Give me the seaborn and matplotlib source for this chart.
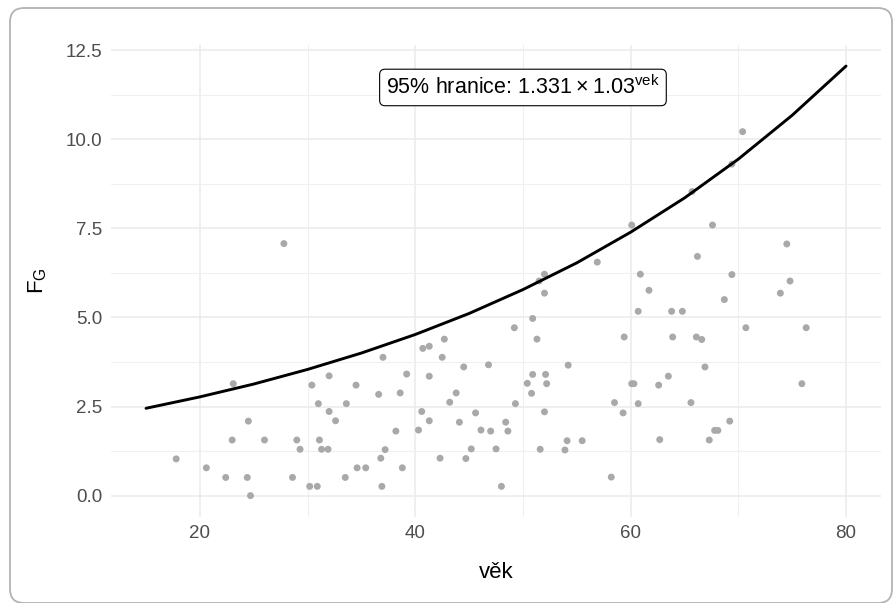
import numpy as np
import pandas as pd
import matplotlib.pyplot as plt
import matplotlib.transforms as mtransforms
from matplotlib.patches import FancyBboxPatch
import seaborn as sns

# body: vek (roky) a F_G
vek = [17.8, 20.6, 22.4, 23.1, 23.0, 24.4, 24.7, 24.5, 26.0, 27.8,
       29.0, 29.3, 28.6, 30.2, 30.9, 30.4, 32.0, 31.0, 32.0, 32.6,
       31.1, 31.3, 31.9, 34.5, 33.6, 37.0, 36.6, 38.6, 39.2, 38.2,
       37.2, 36.8, 34.6, 35.4, 33.5, 38.8, 36.9, 40.7, 41.3, 42.7,
       42.5, 41.3, 44.5, 46.8, 49.2, 43.8, 43.2, 49.3, 40.6, 41.3,
       40.3, 45.6, 44.1, 46.1, 47.0, 48.4, 48.6, 45.2, 47.5, 42.3,
       44.7, 48.0, 50.4, 60.1, 56.9, 52.0, 51.5, 52.0, 50.9, 51.3,
       54.2, 50.9, 52.1, 52.2, 50.8, 52.0, 51.6, 54.1, 53.9, 55.5,
       58.2, 59.4, 58.5, 59.3, 60.1, 60.3, 60.7, 60.9, 61.7, 60.7,
       63.8, 64.8, 63.9, 66.1, 62.6, 63.5, 65.6, 62.7, 66.2, 70.4,
       69.4, 65.7, 67.6, 69.4, 68.7, 66.6, 66.9, 69.2, 67.8, 68.1,
       67.3, 70.7, 74.5, 74.8, 73.9, 76.3, 75.9]
fg = [1.03, 0.78, 0.51, 3.14, 1.56, 0.51, 0.00, 2.09, 1.56, 7.07,
      1.56, 1.30, 0.51, 0.26, 0.26, 3.10, 3.36, 2.58, 2.36, 2.10,
      1.56, 1.30, 1.30, 3.10, 2.58, 3.88, 2.84, 2.88, 3.41, 1.81,
      1.29, 1.05, 0.78, 0.78, 0.51, 0.78, 0.26, 4.13, 4.19, 4.39,
      3.88, 3.35, 3.61, 3.67, 4.71, 2.88, 2.62, 2.58, 2.36, 2.10,
      1.84, 2.32, 2.06, 1.84, 1.81, 2.06, 1.81, 1.31, 1.31, 1.05,
      1.04, 0.26, 3.15, 7.59, 6.55, 6.21, 6.02, 5.68, 4.97, 4.39,
      3.66, 3.40, 3.40, 3.14, 2.87, 2.35, 1.30, 1.54, 1.28, 1.54,
      0.52, 4.45, 2.61, 2.32, 3.14, 3.14, 2.58, 6.21, 5.76, 5.17,
      5.17, 5.17, 4.45, 4.45, 3.10, 3.35, 2.61, 1.57, 6.71, 10.21,
      9.30, 8.53, 7.59, 6.20, 5.50, 4.38, 3.61, 2.09, 1.83, 1.83,
      1.56, 4.71, 7.06, 6.02, 5.68, 4.71, 3.14]

# 95% hranice
krivka_vek = [15, 20, 25, 30, 35, 40, 45, 50, 55, 60, 65, 70, 75, 80]
krivka_fg = [2.45, 2.77, 3.13, 3.54, 4.00, 4.52, 5.11, 5.78, 6.53, 7.39,
             8.35, 9.44, 10.67, 12.05]

x_ticks = [20, 40, 60, 80]
y_ticks = [0.0, 2.5, 5.0, 7.5, 10.0, 12.5]

body = pd.DataFrame({"vek": vek, "fg": fg})
hranice = pd.DataFrame({"vek": krivka_vek, "fg": krivka_fg})

sns.set_theme(style="whitegrid")
plt.rcParams["font.family"] = ["Liberation Sans", "DejaVu Sans"]
plt.rcParams["mathtext.default"] = "regular"

fig = plt.figure(figsize=(8.94, 6.03), dpi=100)
ax = fig.add_axes([0.1242, 0.1426, 0.8613, 0.7833])
ax.set_facecolor("white")

sns.scatterplot(data=body, x="vek", y="fg", color="#A9A9A9", s=25,
                edgecolor="none", ax=ax, zorder=3)
sns.lineplot(data=hranice, x="vek", y="fg", color="black", linewidth=2.1,
             ax=ax, zorder=4)

ax.text(50, 11.45, r"95% hranice: $1.331\times1.03^{vek}$", ha="center",
        va="center", fontsize=15.5, color="black", zorder=5,
        bbox=dict(boxstyle="round,pad=0.3,rounding_size=0.25", fc="white",
                  ec="black", lw=0.8))

ax.set_xlim(11.75, 83.25)
ax.set_ylim(-0.6, 12.65)
ax.set_xticks(x_ticks)
ax.set_xticklabels([str(t) for t in x_ticks])
ax.set_yticks(y_ticks)
ax.set_yticklabels([f"{t:.1f}" for t in y_ticks])
ax.set_xticks([30, 50, 70], minor=True)
ax.set_yticks([1.25, 3.75, 6.25, 8.75, 11.25], minor=True)
ax.grid(which="major", color="#EBEBEB", linewidth=1.1)
ax.grid(which="minor", color="#F0F0F0", linewidth=0.8)
ax.tick_params(which="both", length=0, labelsize=13.5, labelcolor="#4D4D4D")
ax.tick_params(axis="x", pad=6)
ax.tick_params(axis="y", pad=6)
for s in ax.spines.values():
    s.set_visible(False)

ax.set_xlabel("věk", fontsize=16, color="black", labelpad=14)
ax.set_ylabel("F$_G$", fontsize=16, color="black", labelpad=12)

# ramecek kolem celeho obrazku
ramecek = FancyBboxPatch((10, 0), 882, 595,
                         boxstyle="round,pad=0,rounding_size=14",
                         transform=mtransforms.IdentityTransform(),
                         fc="none", ec="#B3B3B3", lw=1.3)
fig.patches.append(ramecek)

fig.savefig("out.png", dpi=100)
